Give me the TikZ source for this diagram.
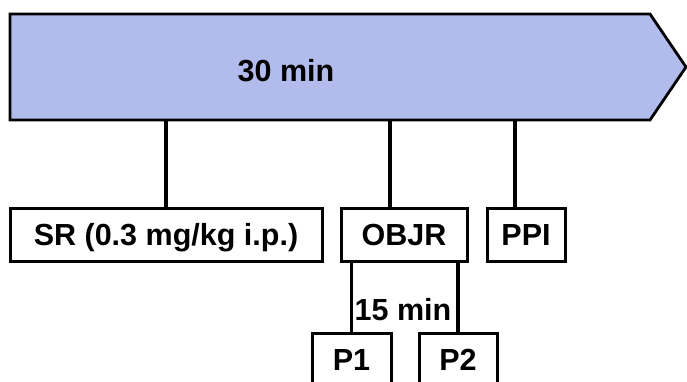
\documentclass[tikz,border=0pt]{standalone}
\usepackage{fontspec}
\setmainfont{Liberation Sans}
\usetikzlibrary{positioning}

\definecolor{barblue}{RGB}{177,188,236}

\tikzset{
  stepbox/.style={draw, line width=3pt, inner sep=0, minimum height=53,
    text height=21.5pt, text depth=0pt,
    font=\fontsize{30.5}{36}\selectfont\bfseries},
  link/.style={line width=3.4pt},
  lbl/.style={inner sep=0, font=\fontsize{30.5}{36}\selectfont\bfseries}
}

\begin{document}
\begin{tikzpicture}[x=1pt, y=-1pt]
\useasboundingbox (0,0) rectangle (687,381);
\clip (0,0) rectangle (687,381);
% Time bar
\draw[fill=barblue, line width=2.8pt, line join=miter] (10,14) -- (650,14) -- (686,67) -- (650,120) -- (10,120) -- cycle;
\coordinate (barb) at (10,120);
\node[lbl] (t30) at (286,71) {30 min};
% Boxes
\node[stepbox, minimum width=312] (sr) at (166,234.5) {SR (0.3 mg/kg i.p.)};
\node[stepbox, minimum width=126] (objr) at (404,234.5) {OBJR};
\node[stepbox, minimum width=78] (ppi) at (526,234.5) {PPI};
\node[stepbox, minimum width=79] (p1) at (351.5,359.5) {P1};
\node[stepbox, minimum width=78] (p2) at (458,359.5) {P2};
% Links
\draw[link] (sr.north) -- (sr.north |- barb);
\draw[link] (objr.north -| 390,0) -- (barb -| 390,0);
\draw[link] (ppi.north -| 515,0) -- (barb -| 515,0);
\draw[link] (p1.north) -- (p1.north |- objr.south);
\draw[link] (p2.north) -- (p2.north |- objr.south);
\node[lbl] (t15) at (403,310) {15 min};
\end{tikzpicture}
\end{document}
